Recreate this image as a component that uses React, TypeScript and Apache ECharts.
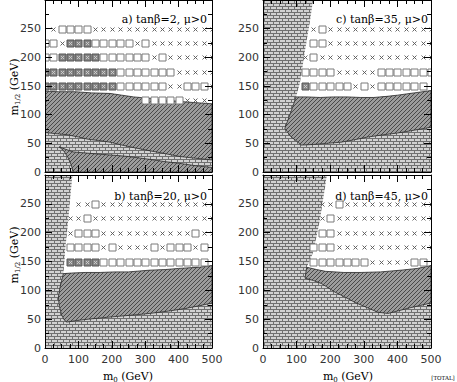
import React, { useEffect, useRef } from "react";
import * as echarts from "echarts";

// ---------- data ----------
const M0_GRID = [0, 25, 50, 75, 100, 125, 150, 175, 200, 225, 250, 275, 300, 325, 350, 375, 400, 425, 450, 475, 500];
const M12_ROWS = [250, 225, 200, 175, 150, 125];

// marker codes per row (one char per M0_GRID column): '.' none, 'x' cross, 's' open square, 'f' filled square
const MARKS_A = [
  ".xssssxxxxxxxxxxxxxxx",
  "ssxfffsssssxsxxxxxxxx",
  "ssfffffssssssxsxxxxxx",
  "fffffffffsssssssxxxxx",
  "fffffffffssssssxxsssx",
  "............sssssxxx.",
];
const MARKS_B = [
  "....xxsxxxxxxxxxxxxxx",
  "...xxsxxxxxxxxxxxxxxx",
  "...xsssxxxxxxxxxxxsxx",
  "...ssssxsxxxxsxsssxs.",
  "...ffffsssssssssssss.",
];
const MARKS_C = [
  "......xsxxxxxxxxxxxxx",
  "......ssxxxxxxxxxxxxx",
  ".....xsxxxxxxxxxxxxxx",
  ".....ssssxxxxxsssssss",
  ".....fsssssxsxssssss.",
];
const MARKS_D = [
  ".......xxsxxxxxxxxxxx",
  ".......xsxxxxxxxxxxxx",
  ".......ssxxxxxxxxxxxx",
  "......sssxxxxxxxxxxxx",
  "......sssssssxxxxxss.",
];

// region boundaries [m0, m1/2]
const A_HATCH_TOP = [[0, 141], [40, 140], [90, 140], [140, 138], [195, 137], [230, 134], [265, 131], [304, 129], [340, 126], [370, 125], [404, 123], [450, 121], [500, 119]];
const A_HATCH_LOW = [[0, 69], [30, 67], [66, 65], [100, 61], [130, 57], [160, 55], [195, 52], [230, 47], [270, 42], [314, 37], [360, 32], [404, 27], [450, 24], [500, 21]];
const A_LOWER_HATCH = [[42, 44], [60, 40], [84, 35], [125, 33], [165, 31], [210, 29], [250, 27], [314, 22], [360, 18], [404, 15], [450, 11], [500, 8], [500, 0], [85, 0], [82, 6], [76, 16], [68, 26], [56, 37]];

const B_BRICK_EDGE = [[82, 300], [78, 275], [74, 250], [70, 224], [66, 200], [62, 180], [60, 166], [58, 148], [55, 129]];
const B_HATCH_TOP = [[55, 129], [80, 130], [120, 131], [165, 131], [210, 132], [250, 132], [314, 135], [360, 136], [400, 138], [460, 140], [500, 143]];
const B_HATCH_LOW = [[500, 78], [460, 73], [425, 69], [370, 64], [314, 60], [280, 58], [240, 56], [200, 54], [165, 52], [130, 50], [100, 48], [65, 45], [57, 49], [50, 57], [43, 72], [40, 88], [45, 105], [52, 122]];

const C_BRICK_EDGE = [[149, 300], [144, 280], [139, 260], [132, 236], [125, 212], [118, 185], [110, 156], [104, 142], [98, 131]];
const C_HATCH_TOP = [[98, 131], [130, 131], [170, 130], [210, 131], [250, 131], [290, 130], [330, 130], [370, 132], [400, 134], [450, 138], [500, 142]];
const C_HATCH_LOW = [[500, 78], [460, 74], [422, 70], [400, 68], [360, 65], [312, 61], [270, 56], [232, 52], [190, 50], [150, 48], [113, 47], [100, 54], [84, 61], [65, 76], [75, 92], [85, 108], [92, 120]];

const D_BRICK_EDGE = [[190, 300], [185, 280], [180, 262], [175, 243], [170, 224], [160, 195], [149, 166], [140, 152], [130, 140]];
const D_HATCH_TOP = [[130, 140], [160, 136], [185, 133], [240, 131], [292, 131], [350, 132], [411, 135], [460, 138], [500, 143]];
const D_HATCH_LOW = [[500, 78], [470, 74], [432, 69], [400, 64], [372, 60], [342, 62], [310, 70], [274, 79], [245, 88], [214, 97], [190, 106], [173, 112], [150, 117], [125, 121]];

const FULL = [[0, 0], [500, 0], [500, 300], [0, 300]];

const PANEL_LABELS = ["a) tanβ=2, μ>0", "c) tanβ=35, μ>0", "b) tanβ=20, μ>0", "d) tanβ=45, μ>0"];

// ---------- layout ----------
const GRIDS = [
  { left: 45, top: 0, width: 167, height: 172 },
  { left: 263, top: 0, width: 168, height: 172 },
  { left: 45, top: 175, width: 167, height: 173 },
  { left: 263, top: 175, width: 168, height: 173 },
];

function makeHatch() {
  const c = document.createElement("canvas");
  c.width = 4; c.height = 4;
  const g = c.getContext("2d")!;
  g.fillStyle = "#9c9c9c"; g.fillRect(0, 0, 4, 4);
  g.fillStyle = "#4a4a4a";
  for (let i = 0; i < 4; i++) g.fillRect(i, 3 - i, 1, 1);
  return c;
}
function makeBrick() {
  const c = document.createElement("canvas");
  c.width = 6; c.height = 6;
  const g = c.getContext("2d")!;
  g.fillStyle = "#d2d2d2"; g.fillRect(0, 0, 6, 6);
  g.fillStyle = "#707070";
  g.fillRect(0, 0, 6, 1); g.fillRect(0, 3, 6, 1);
  g.fillRect(0, 1, 1, 2); g.fillRect(3, 4, 1, 2);
  return c;
}

const CODES: Record<string, number> = { s: 0, f: 1, x: 2 };
function markerData(rows: string[]) {
  const out: number[][] = [];
  rows.forEach((r, ri) => {
    for (let c = 0; c < r.length && c < M0_GRID.length; c++) {
      const t = CODES[r[c]];
      if (t !== undefined) out.push([M0_GRID[c], M12_ROWS[ri], t]);
    }
  });
  return out;
}
const rev = (a: number[][]) => a.slice().reverse();

export default function App() {
  const ref = useRef<HTMLDivElement>(null);
  useEffect(() => {
    if (!ref.current) return;
    const chart = echarts.init(ref.current, null, { renderer: "svg" });
    const HATCH: any = { image: makeHatch(), repeat: "repeat", imageWidth: 4, imageHeight: 4 };
    const BRICK: any = { image: makeBrick(), repeat: "repeat", imageWidth: 6, imageHeight: 6 };
    const EDGE = "#2a2a2a";

    const regions: any[][] = [
      [
        { pts: FULL, fill: BRICK },
        { pts: [[0, 300], [500, 300], ...rev(A_HATCH_TOP)], fill: "#fff" },
        { pts: [...A_HATCH_TOP, ...rev(A_HATCH_LOW)], fill: HATCH, stroke: EDGE },
        { pts: A_LOWER_HATCH, fill: HATCH, stroke: EDGE },
      ],
      [
        { pts: FULL, fill: BRICK },
        { pts: [...C_BRICK_EDGE, ...C_HATCH_TOP.slice(1), [500, 300]], fill: "#fff" },
        { pts: [...C_HATCH_TOP, ...C_HATCH_LOW], fill: HATCH, stroke: EDGE },
      ],
      [
        { pts: FULL, fill: BRICK },
        { pts: [...B_BRICK_EDGE, ...B_HATCH_TOP.slice(1), [500, 300]], fill: "#fff" },
        { pts: [...B_HATCH_TOP, ...B_HATCH_LOW], fill: HATCH, stroke: EDGE },
      ],
      [
        { pts: FULL, fill: BRICK },
        { pts: [...D_BRICK_EDGE, ...D_HATCH_TOP.slice(1), [500, 300]], fill: "#fff" },
        { pts: [...D_HATCH_TOP, ...D_HATCH_LOW], fill: HATCH, stroke: EDGE },
      ],
    ];
    const marks = [MARKS_A, MARKS_C, MARKS_B, MARKS_D];

    const xAxis: any[] = [];
    const yAxis: any[] = [];
    const series: any[] = [];
    const tickCommon = {
      axisLine: { show: true, onZero: false, lineStyle: { color: "#000", width: 1 } },
      axisTick: { show: true, inside: true, length: 7, lineStyle: { color: "#000", width: 1 } },
      splitLine: { show: false },
      minorSplitLine: { show: false },
    };
    const labelStyle = { fontSize: 11, fontFamily: "DejaVu Sans", color: "#333" };
    GRIDS.forEach((_, i) => {
      const showX = i >= 2;
      for (const pos of ["bottom", "top"]) {
        xAxis.push({
          gridIndex: i, type: "value", min: 0, max: 500, interval: 100, position: pos, z: 5,
          ...tickCommon,
          minorTick: { show: true, splitNumber: 4, length: 4, lineStyle: { color: "#000" } },
          axisLabel: { show: pos === "bottom" && showX, margin: 6, showMinLabel: true, showMaxLabel: true, ...labelStyle },
        });
      }
      for (const pos of ["left", "right"]) {
        yAxis.push({
          gridIndex: i, type: "value", min: 0, max: 300, interval: 50, position: pos, z: 5,
          ...tickCommon,
          minorTick: { show: true, splitNumber: 2, length: 4, lineStyle: { color: "#000" } },
          axisLabel: { show: pos === "left", margin: 4, showMinLabel: true, showMaxLabel: false, ...labelStyle },
        });
      }
      const regs = regions[i];
      series.push({
        type: "custom", coordinateSystem: "cartesian2d", xAxisIndex: 2 * i, yAxisIndex: 2 * i,
        silent: true, z: 1, clip: true,
        data: regs.map((r) => r.pts[0]),
        renderItem: (params: any, api: any) => {
          const r = regs[params.dataIndex];
          return {
            type: "polygon",
            shape: { points: r.pts.map((p: number[]) => api.coord(p)) },
            style: { fill: r.fill, stroke: r.stroke || null, lineWidth: r.stroke ? 0.8 : 0 },
            silent: true,
          };
        },
      });
      series.push({
        type: "custom", coordinateSystem: "cartesian2d", xAxisIndex: 2 * i, yAxisIndex: 2 * i,
        silent: true, z: 3, clip: true,
        data: markerData(marks[i]),
        renderItem: (params: any, api: any) => {
          const p = api.coord([api.value(0), api.value(1)]);
          const cx = Math.round(p[0]) + 0.5;
          const cy = Math.round(p[1]) + 0.5;
          const t = api.value(2);
          const cross = (h: number, col: string, lw: number) => [
            { type: "line", shape: { x1: cx - h, y1: cy - h, x2: cx + h, y2: cy + h }, style: { stroke: col, lineWidth: lw } },
            { type: "line", shape: { x1: cx - h, y1: cy + h, x2: cx + h, y2: cy - h }, style: { stroke: col, lineWidth: lw } },
          ];
          if (t === 2) return { type: "group", children: cross(2, "#555", 0.9) };
          const sq = {
            type: "rect", shape: { x: cx - 3.5, y: cy - 3.5, width: 7, height: 7 },
            style: t === 1 ? { fill: "#858585", stroke: "#555", lineWidth: 1 } : { fill: "#fff", stroke: "#7a7a7a", lineWidth: 1 },
          };
          if (t === 1) return { type: "group", children: [sq, ...cross(1.5, "#cfcfcf", 0.9)] };
          return sq;
        },
      });
    });

    const serif = "DejaVu Serif";
    const labelPos = [[207, 19], [428, 19], [207, 196], [428, 196]];
    const graphic: any[] = PANEL_LABELS.map((t, i) => ({
      type: "text", x: labelPos[i][0], y: labelPos[i][1], z: 10, silent: true,
      style: { text: t, fontSize: 11, fontFamily: serif, fill: "#000", align: "right", verticalAlign: "middle" },
    }));
    const richStyle = {
      m: { fontSize: 11, fontFamily: serif, lineHeight: 14, verticalAlign: "middle" },
      s: { fontSize: 7, fontFamily: serif, lineHeight: 14, verticalAlign: "bottom" },
    };
    const yTitle = (cy: number) => ({
      type: "text", x: 14, y: cy, rotation: Math.PI / 2, z: 10, silent: true,
      style: { text: "{m|m}{s|1/2}{m| (GeV)}", align: "center", verticalAlign: "middle", fill: "#000", rich: richStyle },
    });
    const xTitle = (cx: number) => ({
      type: "text", x: cx, y: 376, z: 10, silent: true,
      style: { text: "{m|m}{s|0}{m| (GeV)}", align: "center", verticalAlign: "middle", fill: "#000", rich: richStyle },
    });
    graphic.push(yTitle(87), yTitle(255), xTitle(128), xTitle(348));
    graphic.push({
      type: "text", x: 443, y: 378, z: 10, silent: true,
      style: { text: "[TOTAL]", fontSize: 5.5, fontFamily: serif, fill: "#000", align: "center", verticalAlign: "middle" },
    });

    chart.setOption({
      animation: false,
      backgroundColor: "#fff",
      grid: GRIDS.map((g) => ({ ...g, containLabel: false, outerBoundsMode: "none" })),
      xAxis, yAxis, series, graphic,
    });
    return () => chart.dispose();
  }, []);
  return <div ref={ref} style={{ position: "fixed", left: 0, top: 0, width: 457, height: 382, background: "#fff" }} />;
}
